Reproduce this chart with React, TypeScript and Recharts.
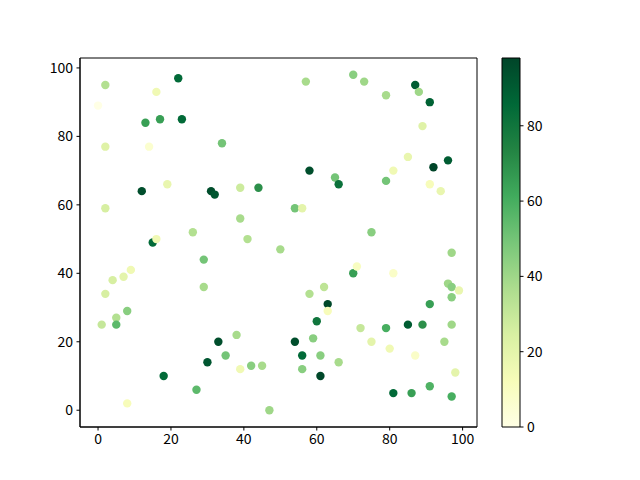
import { ReferenceArea, Scatter, ScatterChart, XAxis, YAxis } from 'recharts'

// point positions and colour values
const xs = [
  0, 2, 2, 2, 2, 1, 4, 5, 5, 7, 8, 9, 8, 12, 13, 14, 15, 16, 16, 17,
  18, 19, 22, 23, 26, 27, 29, 29, 30, 31, 32, 33, 34, 35, 38, 39, 39, 39, 41, 42,
  44, 45, 47, 50, 54, 54, 56, 56, 56, 57, 58, 58, 59, 60, 61, 61, 62, 63, 63, 65,
  66, 66, 70, 70, 71, 72, 73, 75, 75, 79, 79, 79, 80, 81, 81, 81, 85, 85, 86, 87,
  87, 88, 89, 89, 91, 91, 91, 91, 92, 94, 95, 96, 96, 97, 97, 97, 97, 97, 98, 99,
]
const ys = [
  89, 95, 77, 59, 34, 25, 38, 27, 25, 39, 29, 41, 2, 64, 84, 77, 49, 50, 93, 85,
  10, 66, 97, 85, 52, 6, 44, 36, 14, 64, 63, 20, 78, 16, 22, 12, 65, 56, 50, 13,
  65, 13, 0, 47, 59, 20, 59, 16, 12, 96, 70, 34, 21, 26, 16, 10, 36, 31, 29, 68,
  66, 14, 98, 40, 42, 24, 96, 52, 20, 92, 67, 24, 18, 40, 70, 5, 74, 25, 5, 95,
  16, 93, 83, 25, 90, 66, 31, 7, 71, 64, 20, 73, 37, 46, 36, 33, 25, 4, 11, 35,
]
const cs = [
  0, 35, 22, 25, 25, 30, 25, 35, 55, 20, 45, 15, 12, 95, 65, 6, 85, 15, 15, 65,
  85, 18, 85, 85, 35, 55, 50, 38, 92, 95, 92, 95, 50, 50, 38, 15, 28, 38, 35, 45,
  70, 38, 40, 38, 50, 95, 20, 85, 45, 38, 95, 35, 45, 80, 45, 97, 32, 97, 12, 50,
  82, 38, 45, 65, 10, 30, 40, 45, 20, 38, 50, 60, 15, 8, 15, 85, 18, 90, 65, 90,
  8, 40, 22, 70, 88, 12, 65, 58, 98, 18, 38, 90, 40, 40, 45, 45, 40, 60, 20, 18,
]

const axisTicks = [0, 20, 40, 60, 80, 100]
const colorbarTicks = [0, 20, 40, 60, 80]

// YlGn colormap anchors
const YLGN = [
  '#ffffe5', '#f7fcb9', '#d9f0a3', '#addd8e', '#78c679',
  '#41ab5d', '#238443', '#006837', '#004529',
]

const cMin = Math.min(...cs)
const cMax = Math.max(...cs)

function hexToRgb(hex: string) {
  const n = parseInt(hex.slice(1), 16)
  return [(n >> 16) & 255, (n >> 8) & 255, n & 255]
}

function ylgn(value: number) {
  const t = Math.min(1, Math.max(0, (value - cMin) / (cMax - cMin)))
  const pos = t * (YLGN.length - 1)
  const i = Math.min(YLGN.length - 2, Math.floor(pos))
  const f = pos - i
  const a = hexToRgb(YLGN[i])
  const b = hexToRgb(YLGN[i + 1])
  const rgb = a.map((v, k) => Math.round(v + (b[k] - v) * f))
  return `rgb(${rgb.join(',')})`
}

const points = xs.map((x, i) => ({ x, y: ys[i], c: cs[i] }))

const font = { fill: '#000', fontSize: 14, fontFamily: '"Noto Sans CJK SC", sans-serif' }

const xDomain: [number, number] = [-4.95, 103.95]
const yDomain: [number, number] = [-4.9, 102.9]

function Dot(props: any) {
  const { cx, cy, payload } = props
  return <circle cx={cx} cy={cy} r={4.2} fill={ylgn(payload.c)} />
}

function Colorbar() {
  return (
    <ScatterChart
      width={640}
      height={480}
      margin={{ top: 58, right: 80, bottom: 53, left: 502 }}
    >
      <defs>
        <linearGradient id="ylgn-bar" x1="0" y1="1" x2="0" y2="0">
          {YLGN.map((c, i) => (
            <stop key={c} offset={i / (YLGN.length - 1)} stopColor={c} />
          ))}
        </linearGradient>
      </defs>
      <XAxis type="number" dataKey="x" domain={[0, 1]} hide />
      <YAxis
        type="number"
        dataKey="y"
        orientation="right"
        domain={[cMin, cMax]}
        ticks={colorbarTicks}
        width={40}
        tick={font}
        tickSize={3.5}
        tickMargin={3.5}
        axisLine={false}
        tickLine={{ stroke: '#000' }}
      />
      <ReferenceArea
        x1={0}
        x2={1}
        y1={cMin}
        y2={cMax}
        fill="url(#ylgn-bar)"
        fillOpacity={1}
        stroke="#000"
        strokeWidth={1}
      />
      <Scatter
        data={[{ x: 0, y: cMin }, { x: 1, y: cMax }]}
        shape={() => <g />}
        isAnimationActive={false}
      />
    </ScatterChart>
  )
}

export default function App() {
  return (
    <div style={{ position: 'absolute', left: 0, top: 0, width: 640, height: 480, background: '#fff' }}>
      <div style={{ position: 'absolute', left: 0, top: 0 }}>
        <ScatterChart
          width={640}
          height={480}
          margin={{ top: 58, right: 163, bottom: 23, left: 30 }}
        >
          <XAxis
            type="number"
            dataKey="x"
            domain={xDomain}
            ticks={axisTicks}
            allowDataOverflow
            height={30}
            tick={font}
            tickSize={3.5}
            tickMargin={3.5}
            axisLine={{ stroke: '#000' }}
            tickLine={{ stroke: '#000' }}
          />
          <YAxis
            type="number"
            dataKey="y"
            domain={yDomain}
            ticks={axisTicks}
            allowDataOverflow
            width={50}
            tick={font}
            tickSize={3.5}
            tickMargin={3.5}
            axisLine={{ stroke: '#000' }}
            tickLine={{ stroke: '#000' }}
          />
          <Scatter data={points} shape={<Dot />} isAnimationActive={false} />
          <ReferenceArea
            x1={xDomain[0]}
            x2={xDomain[1]}
            y1={yDomain[0]}
            y2={yDomain[1]}
            fill="none"
            stroke="#000"
            strokeWidth={1}
          />
        </ScatterChart>
      </div>
      <div style={{ position: 'absolute', left: 0, top: 0 }}>
        <Colorbar />
      </div>
    </div>
  )
}
